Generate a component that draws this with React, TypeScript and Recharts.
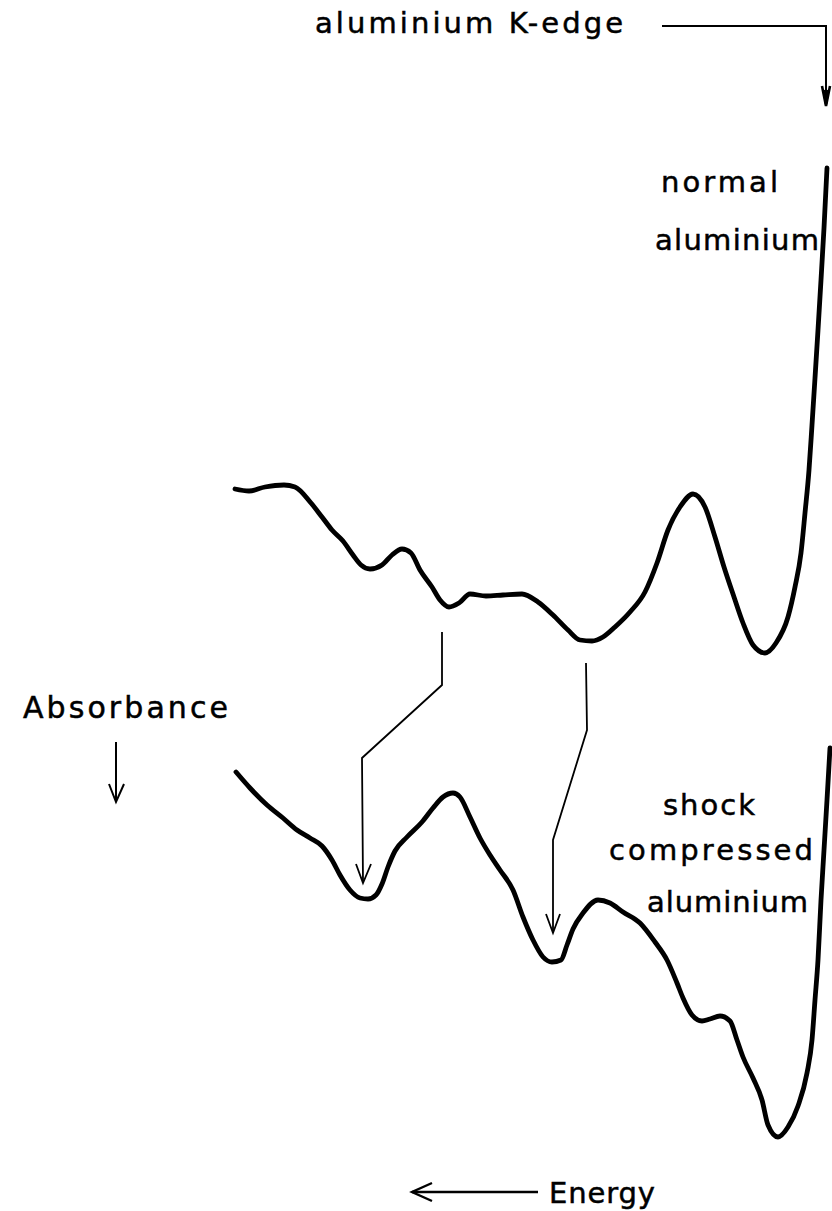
import React from 'react';
import { ComposedChart, Line, XAxis, YAxis, ReferenceDot } from 'recharts';

const W = 832;
const H = 1211;

// Normal aluminium absorption trace (energy in arbitrary units, absorbance grows downward)
const normalEnergy = [
  235, 249, 265, 284, 295, 311, 322, 332, 343, 353, 361, 370, 382, 392, 402, 411, 420, 432, 440, 449,
  459, 470, 486, 503, 522, 538, 553, 568, 580, 592, 603, 615, 630, 645, 657, 668, 680, 693, 705, 715,
  724, 734, 743, 753, 765, 776, 788, 795, 801, 805, 809, 812, 815, 818, 821, 824, 827,
];
const normalAbsorbance = [
  489, 491, 487, 485, 487, 503, 517, 530, 541, 555, 565, 569, 565, 555, 549, 553, 570, 587, 600, 607,
  603, 594, 596, 595, 594, 602, 615, 630, 640, 641, 637, 627, 612, 592, 563, 530, 507, 494, 507, 537,
  567, 597, 623, 645, 653, 643, 617, 587, 553, 513, 470, 425, 378, 330, 280, 228, 168,
];

// Shock compressed aluminium absorption trace
const shockEnergy = [
  236, 250, 267, 283, 297, 310, 322, 332, 340, 350, 360, 368, 376, 382, 388, 395, 407, 422, 433, 443,
  453, 460, 470, 480, 490, 500, 513, 523, 533, 543, 552, 561, 567, 573, 583, 598, 610, 623, 640, 655,
  667, 677, 683, 692, 702, 710, 720, 730, 737, 743, 753, 762, 768, 778, 788, 798, 807, 812, 815, 818,
  821, 824, 827, 830,
];
const shockAbsorbance = [
  772, 788, 805, 818, 830, 838, 846, 860, 875, 890, 898, 899, 895, 884, 867, 851, 837, 822, 808, 797,
  793, 797, 817, 838, 855, 870, 890, 917, 940, 957, 962, 960, 945, 929, 913, 900, 903, 912, 923, 942,
  960, 983, 998, 1015, 1021, 1019, 1016, 1021, 1040, 1057, 1078, 1100, 1125, 1137, 1127, 1106, 1073, 1040, 1000, 960,
  900, 850, 800, 748,
];

const featureOneEnergy = [442, 442, 362, 363];
const featureOneAbsorbance = [632, 685, 758, 883];
const featureTwoEnergy = [586, 587, 553, 553];
const featureTwoAbsorbance = [663, 730, 840, 933];

const edgeEnergy = [662, 826, 826];
const edgeAbsorbance = [26, 26, 100];

type Pt = { e: number; a: number };
const zip = (es: number[], as: number[]): Pt[] => es.map((e, i) => ({ e, a: as[i] }));

const normalData = zip(normalEnergy, normalAbsorbance);
const shockData = zip(shockEnergy, shockAbsorbance);
const featureOne = zip(featureOneEnergy, featureOneAbsorbance);
const featureTwo = zip(featureTwoEnergy, featureTwoAbsorbance);
const edgePath = zip(edgeEnergy, edgeAbsorbance);

// Arrow heads (V shapes) at the ends of the marker paths
const headOne = zip([356, 363, 371], [864, 883, 864]);
const headTwo = zip([546, 553, 560], [914, 933, 914]);
const edgeHead = zip([822, 826, 830], [86, 106, 86]);
const edgeHeadInner = zip([824, 826, 828], [90, 104, 90]);
const absorbanceShaft = zip([116, 116], [742, 802]);
const absorbanceHead = zip([109, 116, 124], [784, 802, 784]);
const energyShaft = zip([538, 412], [1192, 1192]);
const energyHead = zip([432, 412, 432], [1183, 1192, 1201]);

const FONT = '"DejaVu Sans", sans-serif';

type Caption = { text: string; e: number; a: number; width: number; size: number };
const captions: Caption[] = [
  { text: 'aluminium K-edge', e: 315, a: 33, width: 308, size: 29 },
  { text: 'normal', e: 661, a: 192, width: 117, size: 29 },
  { text: 'aluminium', e: 655, a: 250, width: 164, size: 29 },
  { text: 'Absorbance', e: 23, a: 718, width: 205, size: 30 },
  { text: 'shock', e: 663, a: 815, width: 92, size: 29 },
  { text: 'compressed', e: 609, a: 860, width: 204, size: 29 },
  { text: 'aluminium', e: 647, a: 912, width: 161, size: 29 },
  { text: 'Energy', e: 549, a: 1203, width: 106, size: 29 },
];

const thinLine = (data: Pt[], key: string, width = 1.8) => (
  <Line
    key={key}
    data={data}
    dataKey="a"
    type="linear"
    stroke="#000"
    strokeWidth={width}
    strokeLinejoin="miter"
    dot={false}
    activeDot={false}
    isAnimationActive={false}
  />
);

const traceLine = (data: Pt[], key: string) => (
  <Line
    key={key}
    data={data}
    dataKey="a"
    type="monotone"
    stroke="#000"
    strokeWidth={4.8}
    strokeLinecap="round"
    strokeLinejoin="round"
    dot={false}
    activeDot={false}
    isAnimationActive={false}
  />
);

export default function App() {
  return (
    <div style={{ position: 'absolute', left: 0, top: 0, width: W, height: H, background: '#fff' }}>
      <ComposedChart width={W} height={H} margin={{ top: 0, right: 0, bottom: 0, left: 0 }}>
        <XAxis dataKey="e" type="number" domain={[0, W]} hide allowDataOverflow />
        <YAxis type="number" domain={[0, H]} reversed hide allowDataOverflow />
        {traceLine(normalData, 'normal')}
        {traceLine(shockData, 'shock')}
        {thinLine(featureOne, 'f1')}
        {thinLine(featureTwo, 'f2')}
        {thinLine(headOne, 'h1')}
        {thinLine(headTwo, 'h2')}
        {thinLine(edgePath, 'edge', 2)}
        {thinLine(edgeHead, 'edgeHead', 2.6)}
        {thinLine(edgeHeadInner, 'edgeHeadInner', 2.6)}
        {thinLine(absorbanceShaft, 'as', 2)}
        {thinLine(absorbanceHead, 'ah', 2)}
        {thinLine(energyShaft, 'es', 2.4)}
        {thinLine(energyHead, 'eh', 2.4)}
        {captions.map((c, i) => (
          <ReferenceDot
            key={`cap-${i}`}
            x={c.e}
            y={c.a}
            r={0}
            ifOverflow="visible"
            shape={(p: any) => (
              <text
                x={p.cx}
                y={p.cy}
                fontFamily={FONT}
                fontSize={c.size}
                textLength={c.width}
                lengthAdjust="spacing"
                fill="#000"
                stroke="#000"
                strokeWidth={0.5}
              >
                {c.text}
              </text>
            )}
          />
        ))}
      </ComposedChart>
    </div>
  );
}
